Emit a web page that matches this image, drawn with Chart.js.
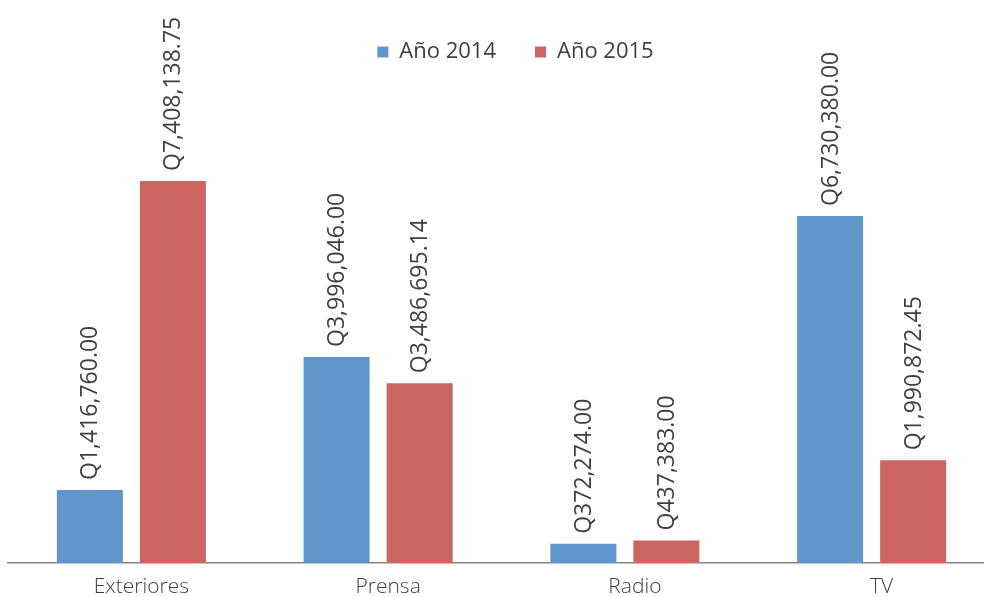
<!DOCTYPE html>
<html>
<head>
<meta charset="utf-8">
<script src="https://cdn.jsdelivr.net/npm/chart.js@4/dist/chart.umd.min.js"></script>
<style>
  html, body { margin: 0; padding: 0; background: #fff; overflow: hidden; }
  #wrap { width: 995px; height: 597px; }
</style>
</head>
<body>
<div id="wrap"><canvas id="grafica"></canvas></div>
<script>
// categorias y valores (quetzales)
const categorias = ["Exteriores", "Prensa", "Radio", "TV"];
const anio2014 = [1416760.00, 3996046.00, 372274.00, 6730380.00];
const anio2015 = [7408138.75, 3486695.14, 437383.00, 1990872.45];
const series = ["Año 2014", "Año 2015"];

const TXT = "#404040";
const PX_POR_Q = 51.565 / 1e6; // escala vertical medida en la referencia
Chart.defaults.font.family = "'Open Sans', 'Noto Sans', sans-serif";
Chart.defaults.color = TXT;

function formatoQ(v) {
  return "Q" + v.toLocaleString("en-US", { minimumFractionDigits: 2, maximumFractionDigits: 2 });
}

// etiquetas verticales encima de cada barra
const etiquetas = {
  id: "etiquetas",
  afterDatasetsDraw(chart) {
    const ctx = chart.ctx;
    ctx.save();
    ctx.font = "400 23px 'Open Sans', 'Noto Sans', sans-serif";
    ctx.fillStyle = TXT;
    ctx.textAlign = "left";
    ctx.textBaseline = "middle";
    chart.data.datasets.forEach((ds, i) => {
      chart.getDatasetMeta(i).data.forEach((bar, j) => {
        ctx.save();
        ctx.translate(bar.x + 1, bar.y - 10);
        ctx.rotate(-Math.PI / 2);
        ctx.fillText(formatoQ(ds.data[j]), 0, 0);
        ctx.restore();
      });
    });
    ctx.restore();
  }
};

// el eje y oculto se ajusta para que la escala quede fija
const escalaFija = {
  id: "escalaFija",
  afterLayout(chart) {
    // leyenda un poco a la derecha y abajo, como en el original
    const lg = chart.legend;
    if (lg) { lg.left += 14; lg.right += 14; lg.top += 2; lg.bottom += 2; }
    const area = chart.chartArea;
    const max = (area.bottom - area.top) / PX_POR_Q;
    if (Math.abs(chart.options.scales.y.max - max) > 1) {
      chart.options.scales.y.max = max;
      chart.update("none");
    }
  }
};

const ctxG = document.getElementById("grafica");
const grafica = new Chart(ctxG, {
  type: "bar",
  data: {
    labels: categorias,
    datasets: [
      { label: series[0], data: anio2014, backgroundColor: "#6096CB" },
      { label: series[1], data: anio2015, backgroundColor: "#CD6660" },
    ],
  },
  options: {
    responsive: true,
    maintainAspectRatio: false,
    animation: false,
    layout: { padding: { left: 8, right: 0, top: 0, bottom: 0 } },
    datasets: {
      bar: { categoryPercentage: 0.673, barPercentage: 0.795 },
    },
    scales: {
      x: {
        grid: { display: false, drawTicks: false },
        border: { display: true, color: "#868686", width: 1.5 },
        ticks: { font: { size: 21, weight: 300 }, color: TXT, padding: 11, labelOffset: 10 },
        afterFit(scale) { scale.height = 34; },
      },
      y: {
        display: false,
        min: 0,
        max: 9000000,
      },
    },
    plugins: {
      legend: {
        position: "top",
        align: "center",
        labels: {
          boxWidth: 11,
          boxHeight: 11,
          padding: 39,
          font: { size: 22, weight: 400 },
          color: TXT,
        },
      },
      tooltip: { enabled: false },
    },
  },
  plugins: [etiquetas, escalaFija],
});
</script>
</body>
</html>
